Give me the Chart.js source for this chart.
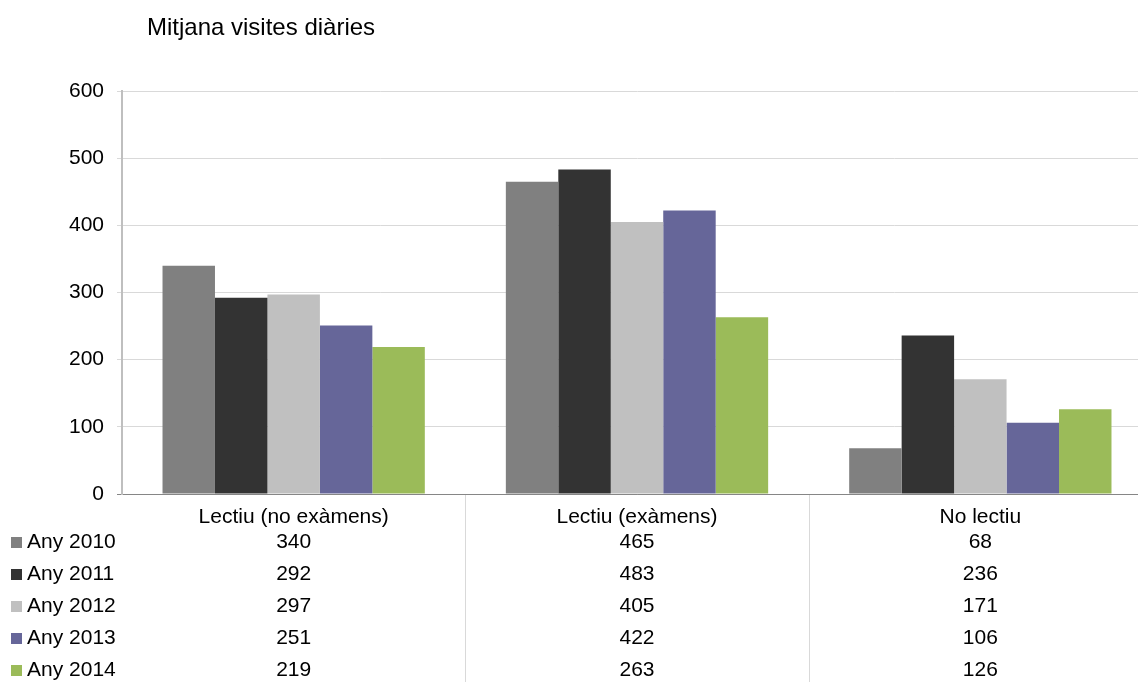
<!DOCTYPE html>
<html>
<head>
<meta charset="utf-8">
<script src="https://cdn.jsdelivr.net/npm/chart.js@4.4.1/dist/chart.umd.min.js"></script>
<style>
html,body{margin:0;padding:0;background:#fff;overflow:hidden;}
#wrap{position:relative;width:1152px;height:682px;}
</style>
</head>
<body>
<div id="wrap"><canvas id="c"></canvas></div>
<script>
const titleText="Mitjana visites diàries";
const categories=["Lectiu (no exàmens)","Lectiu (exàmens)","No lectiu"];
const seriesNames=["Any 2010","Any 2011","Any 2012","Any 2013","Any 2014"];
const any2010=[340,465,68];
const any2011=[292,483,236];
const any2012=[297,405,171];
const any2013=[251,422,106];
const any2014=[219,263,126];
const yTicks=[0,100,200,300,400,500,600];

const colors=["#808080","#333333","#c0c0c0","#666699","#9bbb59"];
const seriesValues=[any2010,any2011,any2012,any2013,any2014];
const FONT="'Liberation Sans', Arial, sans-serif";

// title + data table under the axis
const tablePlugin={
id:"tablePlugin",
afterDraw(chart){
const ctx=chart.ctx;
const x=chart.scales.x;
const area=chart.chartArea;
ctx.save();
ctx.fillStyle="#000";
ctx.font="24px "+FONT;
ctx.textAlign="left";
ctx.textBaseline="middle";
ctx.fillText(titleText,147,28);

// column separators
ctx.strokeStyle="#d9d9d9";
ctx.lineWidth=1;
for(let i=1;i<categories.length;i++){
let bx=Math.round((x.getPixelForValue(i-1)+x.getPixelForValue(i))/2)+0.5;
ctx.beginPath();
ctx.moveTo(bx,area.bottom+1);
ctx.lineTo(bx,chart.height);
ctx.stroke();
}

ctx.font="21px "+FONT;
seriesNames.forEach((name,r)=>{
let y=area.bottom+48+r*32;
ctx.fillStyle=colors[r];
ctx.fillRect(11,y-5,11,11);
ctx.fillStyle="#000";
ctx.textAlign="left";
ctx.fillText(name,27,y);
ctx.textAlign="center";
seriesValues[r].forEach((v,i)=>{
ctx.fillText(String(v),x.getPixelForValue(i),y);
});
});
ctx.restore();
}
};

new Chart(document.getElementById("c"),{
type:"bar",
data:{
labels:categories,
datasets:seriesNames.map((n,i)=>({
label:n,
data:seriesValues[i],
backgroundColor:colors[i],
borderWidth:0,
categoryPercentage:0.764,
barPercentage:1
}))
},
options:{
responsive:true,
maintainAspectRatio:false,
animation:false,
layout:{padding:{top:91,left:0,right:0,bottom:0}},
plugins:{
legend:{display:false},
tooltip:{enabled:false},
title:{display:false}
},
scales:{
x:{
grid:{display:false},
border:{display:true,color:"#868686",width:1},
ticks:{color:"#000",font:{family:FONT,size:21},padding:3,maxRotation:0},
afterFit:s=>{s.height=188;}
},
y:{
min:0,max:600,
afterBuildTicks:s=>{s.ticks=yTicks.map(v=>({value:v}));},
grid:{
color:c=>c.tick&&c.tick.value===0?"#868686":"#d9d9d9",
tickLength:5
},
border:{display:true,color:"#bfbfbf",width:2},
ticks:{color:"#000",font:{family:FONT,size:21},padding:13},
afterFit:s=>{s.width=122;}
}
}
},
plugins:[tablePlugin]
});
</script>
</body>
</html>
